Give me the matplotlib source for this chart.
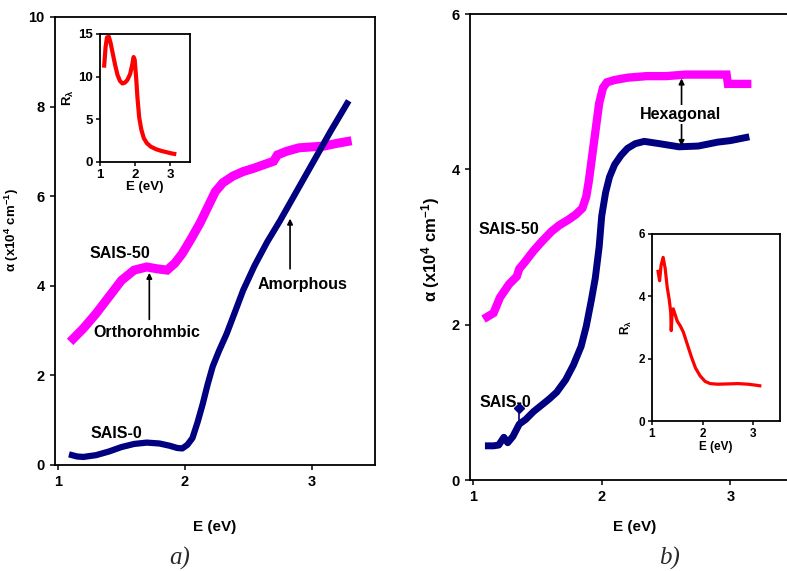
import numpy as np
import matplotlib
matplotlib.use('Agg')
import matplotlib.pyplot as plt

# ---- panel a) : absorption coefficient, alpha (x10^4 cm^-1) vs E (eV)
e_sais0_a = [1.11, 1.15, 1.2, 1.3, 1.4, 1.5, 1.6, 1.7, 1.8, 1.88, 1.94, 1.98,
             2.02, 2.06, 2.1, 2.14, 2.18, 2.22, 2.27, 2.33, 2.4, 2.46, 2.55,
             2.65, 2.75, 2.85, 2.95, 3.05, 3.15, 3.28]
a_sais0_a = [0.22, 0.19, 0.18, 0.22, 0.3, 0.4, 0.47, 0.5, 0.48, 0.43, 0.38,
             0.37, 0.45, 0.6, 0.95, 1.35, 1.8, 2.2, 2.55, 2.93, 3.45, 3.9,
             4.45, 4.98, 5.45, 5.95, 6.45, 6.95, 7.45, 8.07]
e_sais50_a = [1.12, 1.2, 1.3, 1.4, 1.5, 1.6, 1.7, 1.78, 1.86, 1.92, 1.98, 2.05,
              2.12, 2.18, 2.24, 2.3, 2.38, 2.46, 2.54, 2.62, 2.7, 2.73, 2.8,
              2.9, 3.0, 3.1, 3.2, 3.28]
a_sais50_a = [2.82, 3.05, 3.38, 3.75, 4.12, 4.35, 4.42, 4.38, 4.35, 4.5, 4.72,
              5.05, 5.4, 5.75, 6.1, 6.3, 6.45, 6.55, 6.62, 6.7, 6.78, 6.92,
              7.0, 7.08, 7.1, 7.12, 7.18, 7.22]
# inset a) : R_lambda vs E
e_r_a = [1.12, 1.16, 1.2, 1.25, 1.3, 1.36, 1.43, 1.5, 1.57, 1.64, 1.71, 1.78,
         1.86, 1.92, 1.96, 1.99, 2.03, 2.07, 2.12, 2.18, 2.25, 2.34, 2.45,
         2.6, 2.75, 2.9, 3.05, 3.12]
r_a = [11.3, 13.5, 14.6, 14.7, 14.0, 12.8, 11.4, 10.2, 9.5, 9.2, 9.3, 9.6,
       10.3, 11.4, 12.3, 12.0, 10.0, 7.5, 5.2, 3.8, 2.8, 2.2, 1.8, 1.5, 1.3,
       1.15, 1.0, 0.95]

# ---- panel b)
e_sais0_b = [1.12, 1.16, 1.2, 1.24, 1.27, 1.31, 1.36, 1.41, 1.47, 1.53, 1.59,
             1.65, 1.72, 1.78, 1.84, 1.88, 1.92, 1.95, 1.98, 2.0, 2.03, 2.06,
             2.1, 2.15, 2.2, 2.26, 2.33, 2.45, 2.6, 2.75, 2.9, 3.0, 3.12]
a_sais0_b = [0.44, 0.44, 0.45, 0.55, 0.48, 0.56, 0.72, 0.78, 0.88, 0.96, 1.04,
             1.13, 1.29, 1.48, 1.72, 1.98, 2.32, 2.6, 3.0, 3.4, 3.7, 3.9, 4.06,
             4.18, 4.27, 4.33, 4.36, 4.33, 4.29, 4.3, 4.35, 4.37, 4.41]
e_sais50_b = [1.11, 1.16, 1.21, 1.28, 1.34, 1.36, 1.4, 1.47, 1.54, 1.61, 1.67,
              1.74, 1.8, 1.85, 1.88, 1.9, 1.92, 1.94, 1.96, 1.98, 2.01, 2.04,
              2.1, 2.2, 2.35, 2.5, 2.65, 2.8, 2.97, 2.98, 3.05, 3.13]
a_sais50_b = [2.1, 2.15, 2.35, 2.52, 2.62, 2.72, 2.8, 2.95, 3.08, 3.2, 3.28,
              3.35, 3.42, 3.5, 3.65, 3.85, 4.1, 4.35, 4.6, 4.85, 5.05, 5.12,
              5.15, 5.18, 5.2, 5.2, 5.22, 5.22, 5.22, 5.1, 5.1, 5.1]
spike_e, spike_a = 1.36, 0.93
# inset b)
e_r_b = [1.12, 1.15, 1.18, 1.22, 1.26, 1.3, 1.34, 1.37, 1.38, 1.39, 1.4, 1.42,
         1.46, 1.5, 1.56, 1.62, 1.7, 1.78, 1.86, 1.95, 2.05, 2.15, 2.3, 2.5,
         2.7, 2.9, 3.05, 3.13]
r_b = [4.8, 4.5, 5.0, 5.25, 4.9, 4.3, 3.9, 3.5, 2.9, 3.2, 3.55, 3.6, 3.4, 3.2,
       3.05, 2.85, 2.45, 2.05, 1.7, 1.45, 1.27, 1.2, 1.18, 1.19, 1.2, 1.18,
       1.15, 1.13]

MAGENTA = '#ff00ff'
NAVY = '#000080'
RED = '#ff0000'

plt.rcParams.update({
    'font.family': ['Liberation Sans', 'DejaVu Sans'],
    'font.weight': 'bold',
    'font.size': 10,
    'mathtext.fontset': 'custom',
    'mathtext.rm': 'Liberation Sans',
    'mathtext.it': 'Liberation Sans:italic',
    'mathtext.bf': 'Liberation Sans:bold',
    'axes.linewidth': 1.3,
    'xtick.direction': 'out',
    'ytick.direction': 'out',
    'xtick.major.size': 3.5,
    'ytick.major.size': 3.5,
    'xtick.major.width': 1.1,
    'ytick.major.width': 1.1,
})

W, H = 787, 571
fig = plt.figure(figsize=(W / 100, H / 100), dpi=100)


def px_axes(left, top, right, bottom):
    """Axes from pixel box of the reference image."""
    return fig.add_axes([left / W, 1 - bottom / H, (right - left) / W,
                         (bottom - top) / H])


ylab = r'$\mathrm{\alpha}$ $\mathbf{(x10^4\ cm^{-1})}$'
rlab = r'$\mathbf{R}_{\mathrm{\lambda}}$'
FS = 11.5

# ---------------- panel a)
ax = px_axes(55, 17, 375, 465)
ax.plot(e_sais50_a, a_sais50_a, color=MAGENTA, lw=6.5,
        solid_capstyle='projecting', solid_joinstyle='miter')
ax.plot(e_sais0_a, a_sais0_a, color=NAVY, lw=4.5,
        solid_capstyle='projecting')
ax.set_xlim(0.976, 3.5)
ax.set_ylim(0, 10)
ax.set_xticks([1, 2, 3])
ax.set_yticks([0, 2, 4, 6, 8, 10])
ax.tick_params(labelsize=10.5, pad=4)
ax.set_xlabel('E (eV)', fontsize=11, fontweight='bold')
ax.xaxis.set_label_coords(0.5, -0.123)
ax.set_ylabel(ylab, fontsize=9.5)
ax.yaxis.set_label_coords(-0.106, 0.525)

ax.text(1.49, 4.71, 'SAIS-50', ha='center', va='center', fontsize=FS)
ax.text(1.46, 0.71, 'SAIS-0', ha='center', va='center', fontsize=FS)
ax.annotate('', xy=(1.72, 4.29), xytext=(1.72, 3.25),
            arrowprops=dict(arrowstyle='-|>', color='black', lw=1.2,
                            mutation_scale=8, shrinkA=0, shrinkB=0))
ax.text(1.70, 2.96, 'Orthorohmbic', ha='center', va='center', fontsize=FS)
ax.annotate('', xy=(2.83, 5.5), xytext=(2.83, 4.38),
            arrowprops=dict(arrowstyle='-|>', color='black', lw=1.2,
                            mutation_scale=8, shrinkA=0, shrinkB=0))
ax.text(2.93, 4.04, 'Amorphous', ha='center', va='center', fontsize=FS)

ins = px_axes(100, 34, 190, 162)
ins.plot(e_r_a, r_a, color=RED, lw=3)
ins.set_xlim(1, 3.57)
ins.set_ylim(0, 15)
ins.set_xticks([1, 2, 3])
ins.set_yticks([0, 5, 10, 15])
ins.tick_params(labelsize=9.5, pad=2, length=3)
ins.set_xlabel('E (eV)', fontsize=9.5, fontweight='bold', labelpad=0)
ins.set_ylabel(rlab, fontsize=9.5, labelpad=2)

fig.text(180 / W, 1 - 558 / H, 'a)', ha='center', va='center', fontsize=18,
         family='Liberation Serif', style='italic', weight='normal',
         color='#2a2a2a')

# ---------------- panel b)
bx = px_axes(470, 14, 800, 480)
bx.plot(e_sais50_b, a_sais50_b, color=MAGENTA, lw=6,
        solid_capstyle='projecting', solid_joinstyle='miter')
bx.plot(e_sais0_b, a_sais0_b, color=NAVY, lw=5,
        solid_capstyle='projecting')
bx.plot([spike_e, spike_e], [0.75, spike_a], color=NAVY, lw=1.2)
bx.plot([spike_e], [spike_a], marker='D', color=NAVY, ms=5)
bx.set_xlim(0.977, 3.54)
bx.set_ylim(0, 6)
bx.set_xticks([1, 2, 3])
bx.set_yticks([0, 2, 4, 6])
bx.tick_params(labelsize=10.5, pad=4)
bx.set_xlabel('E (eV)', fontsize=11, fontweight='bold')
bx.xaxis.set_label_coords(0.5, -0.086)
bx.set_ylabel(ylab, fontsize=12)
bx.yaxis.set_label_coords(-0.085, 0.494)

bx.text(1.28, 3.23, 'SAIS-50', ha='center', va='center', fontsize=FS)
bx.text(1.25, 1.0, 'SAIS-0', ha='center', va='center', fontsize=FS)
bx.annotate('', xy=(2.62, 5.17), xytext=(2.62, 4.3),
            arrowprops=dict(arrowstyle='<|-|>', color='black', lw=1.2,
                            mutation_scale=8, shrinkA=0, shrinkB=0))
bx.text(2.61, 4.71, 'Hexagonal', ha='center', va='center', fontsize=FS,
        bbox=dict(facecolor='white', edgecolor='none', pad=1.5))

ins2 = px_axes(652, 234, 780, 421)
ins2.plot(e_r_b, r_b, color=RED, lw=2.3)
ins2.set_xlim(1, 3.53)
ins2.set_ylim(0, 6)
ins2.set_xticks([1, 2, 3])
ins2.set_yticks([0, 2, 4, 6])
ins2.tick_params(labelsize=8.5, pad=2, length=3)
ins2.set_xlabel('E (eV)', fontsize=8.5, fontweight='bold', labelpad=1)
ins2.set_ylabel(rlab, fontsize=8.5, labelpad=3)

fig.text(670 / W, 1 - 558 / H, 'b)', ha='center', va='center', fontsize=18,
         family='Liberation Serif', style='italic', weight='normal',
         color='#2a2a2a')

fig.savefig('out.png', dpi=100)
